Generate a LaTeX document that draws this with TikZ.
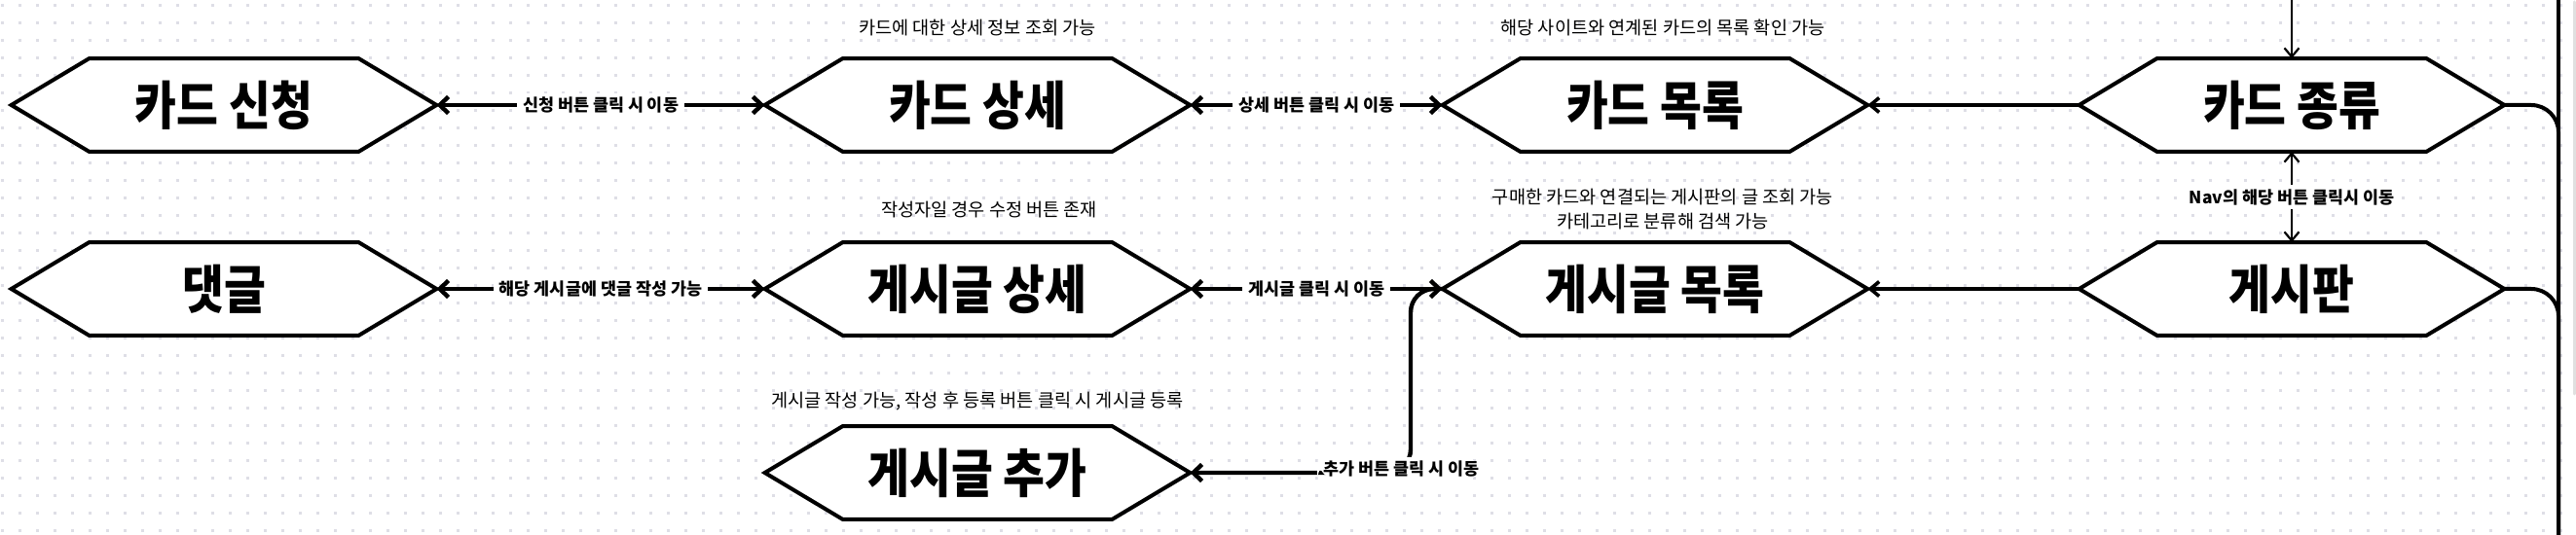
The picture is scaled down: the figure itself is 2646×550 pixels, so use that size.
\documentclass[tikz,border=0pt]{standalone}
\usepackage{fontspec}
\setmainfont{Noto Sans CJK KR}
\usetikzlibrary{arrows.meta}
\definecolor{gridc}{RGB}{222,222,230}
\pgfdeclarelayer{grid}
\pgfdeclarelayer{shapes}
\pgfsetlayers{grid,shapes,main}
\newcommand\hx[1]{\scalebox{0.97}[1.12]{#1}}
\begin{document}
\begin{tikzpicture}[x=0.5pt,y=-0.5pt,
  hexnode/.style={minimum width=218pt, minimum height=47.5pt, inner sep=0pt,
    font=\fontsize{24}{26}\selectfont\bfseries},
  hexline/.style={line width=2pt, fill=white, draw=black, line join=miter},
  biarrow/.style={line width=2.2pt, {Straight Barb[length=4.5pt,width=8.5pt]}-{Straight Barb[length=4.5pt,width=8.5pt]}},
  onearrow/.style={line width=2.2pt, -{Straight Barb[length=4.5pt,width=8.5pt]}},
  midarrow/.style={line width=1.8pt, -{Straight Barb[length=4.5pt,width=7.5pt]}},
  thinarrow/.style={line width=1.1pt, -{Straight Barb[length=4.5pt,width=7.5pt]}},
  thinbi/.style={line width=1.1pt, {Straight Barb[length=4.5pt,width=7.5pt]}-{Straight Barb[length=4.5pt,width=7.5pt]}},
  plainline/.style={line width=2pt},
  lbl/.style={fill=white, inner xsep=3pt, inner ysep=2pt, font=\fontsize{8.7}{9}\selectfont\bfseries},
  captext/.style={font=\fontsize{9.3}{12.5}\selectfont, align=center, inner sep=0pt}]
\useasboundingbox (0,0) rectangle (2646,550);
\begin{pgfonlayer}{grid}
\fill[white] (0,0) rectangle (2646,550);
\foreach \x in {2,20,...,2646}{
  \foreach \y in {6,24,...,550}{
    \fill[gridc] (\x-1.5,\y-1.5) rectangle (\x+1.5,\y+1.5);
  }
}
\end{pgfonlayer}

% nodes
\node[hexnode] (sinchung) at (230,108) {\hx{카드 신청}};
\node[hexnode] (kdetail)  at (1004,108) {\hx{카드 상세}};
\node[hexnode] (kmokrok)  at (1700,108) {\hx{카드 목록}};
\node[hexnode] (kjongryu) at (2354,108) {\hx{카드 종류}};
\node[hexnode] (daetgeul) at (230,297) {\hx{댓글}};
\node[hexnode] (gdetail)  at (1004,297) {\hx{게시글 상세}};
\node[hexnode] (gmokrok)  at (1700,297) {\hx{게시글 목록}};
\node[hexnode] (gesipan)  at (2354,297) {\hx{게시판}};
\node[hexnode] (gchuga)   at (1004,486) {\hx{게시글 추가}};

\begin{pgfonlayer}{shapes}
\foreach \n in {sinchung,kdetail,kmokrok,kjongryu,daetgeul,gdetail,gmokrok,gesipan,gchuga}{
  \filldraw[hexline] (\n.west) -- ([xshift=40pt]\n.north west) -- ([xshift=-40pt]\n.north east)
    -- (\n.east) -- ([xshift=-40pt]\n.south east) -- ([xshift=40pt]\n.south west) -- cycle;
}
\end{pgfonlayer}

% captions
\node[captext] (c1) at (1004,29) {카드에 대한 상세 정보 조회 가능};
\node[captext] (c2) at (1708,28) {해당 사이트와 연계된 카드의 목록 확인 가능};
\node[captext] (c3) at (1016,216) {작성자일 경우 수정 버튼 존재};
\node[captext] (c4) at (1708,215.5) {구매한 카드와 연결되는 게시판의 글 조회 가능\\카테고리로 분류해 검색 가능};
\node[captext] (c5) at (1004,413) {게시글 작성 가능, 작성 후 등록 버튼 클릭 시 게시글 등록};

% coordinates
\coordinate (ktop) at (2354,0);
\coordinate (rtop) at (2628,0);
\coordinate (rbot) at (2628,550);
\coordinate (rj1) at (2628,108);
\coordinate (rj2) at (2628,297);
\coordinate (bend) at (1449,297);

% connectors
\draw[biarrow] (sinchung.east) -- node[lbl] (l1) {신청 버튼 클릭 시 이동} (kdetail.west);
\draw[biarrow] (kdetail.east) -- node[lbl] (l2) {상세 버튼 클릭 시 이동} (kmokrok.west);
\draw[biarrow] (daetgeul.east) -- node[lbl] (l3) {해당 게시글에 댓글 작성 가능} (gdetail.west);
\draw[biarrow] (gdetail.east) -- node[lbl] (l4) {게시글 클릭 시 이동} (gmokrok.west);
\draw[midarrow] (kjongryu.west) -- (kmokrok.east);
\draw[midarrow] (gesipan.west) -- (gmokrok.east);
\draw[thinbi] (kjongryu.south) -- node[lbl] (l5) {Nav의 해당 버튼 클릭시 이동} (gesipan.north);
\draw[thinarrow] (ktop) -- (kjongryu.north);
\draw[onearrow, rounded corners=12pt] (gmokrok.west) -- (bend) |- node[lbl, pos=0.5, xshift=-5pt, yshift=2pt] (l6) {추가 버튼 클릭 시 이동} (gchuga.east);
\draw[plainline] (rtop) -- (rbot);
\draw[plainline, rounded corners=14pt] (kjongryu.east) -- (rj1) -- (rbot);
\draw[plainline, rounded corners=14pt] (gesipan.east) -- (rj2) -- (rbot);
\draw[black!12, line width=1.5pt, line cap=round] (2644,2) -- (2644,405);
\end{tikzpicture}
\end{document}
